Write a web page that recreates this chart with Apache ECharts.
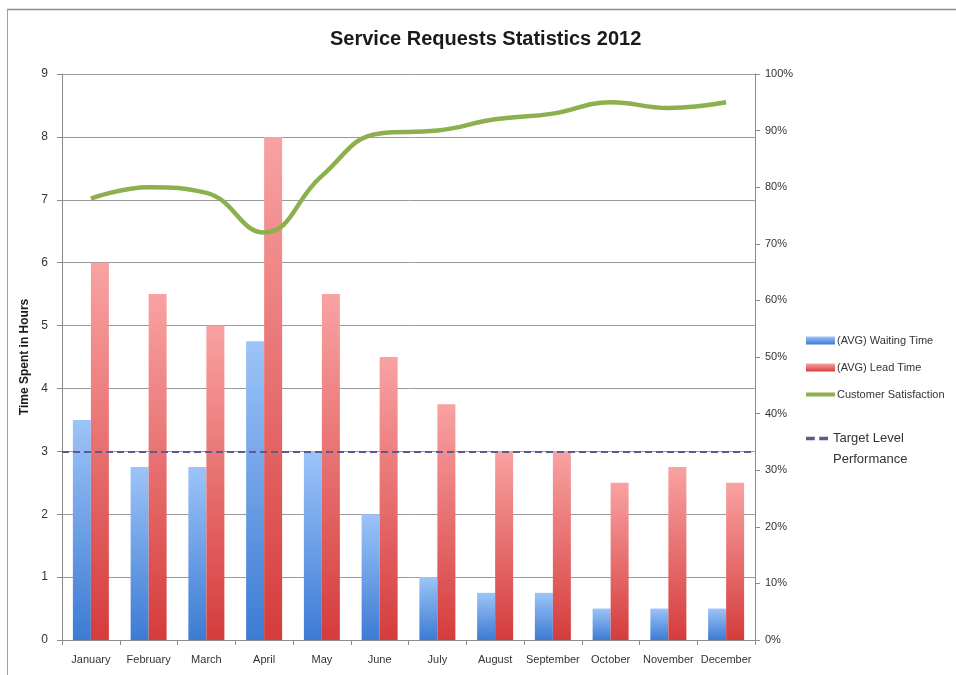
<!DOCTYPE html>
<html>
<head>
<meta charset="utf-8">
<script src="https://cdn.jsdelivr.net/npm/echarts@6/dist/echarts.min.js"></script>
<style>
  html, body { margin: 0; padding: 0; background: #ffffff; }
  #chart { width: 956px; height: 675px; }
</style>
</head>
<body>
<div id="chart"></div>
<script>
// Monthly service request figures for 2012
const months = ['January', 'February', 'March', 'April', 'May', 'June',
                'July', 'August', 'September', 'October', 'November', 'December'];
const waitingTime = [3.5, 2.75, 2.75, 4.75, 3.0, 2.0, 1.0, 0.75, 0.75, 0.5, 0.5, 0.5];
const leadTime = [6, 5.5, 5, 8, 5.5, 4.5, 3.75, 3, 3, 2.5, 2.75, 2.5];
const satisfaction = [78, 80, 79, 72, 82, 89.5, 90, 92, 93, 95, 94, 95];
const targetLevel = 3;
const hourTicks = [0, 9, 1];      // min, max, step
const percentTicks = [0, 100, 10]; // min, max, step

const FONT = '"Liberation Sans", Arial, sans-serif';

const chart = echarts.init(document.getElementById('chart'), null, { renderer: 'canvas' });

function vGrad(top, bottom) {
  return new echarts.graphic.LinearGradient(0, 0, 0, 1, [
    { offset: 0, color: top },
    { offset: 1, color: bottom }
  ]);
}

chart.setOption({
  animation: false,
  backgroundColor: '#ffffff',
  textStyle: { fontFamily: FONT },
  graphic: [
    { type: 'line', shape: { x1: 7, y1: 9.5, x2: 956, y2: 9.5 }, style: { stroke: '#8a8a8a', lineWidth: 1.5 } },
    { type: 'line', shape: { x1: 7.5, y1: 9, x2: 7.5, y2: 675 }, style: { stroke: '#a0a0a0', lineWidth: 1 } }
  ],
  title: {
    text: 'Service Requests Statistics 2012',
    left: 330,
    top: 29,
    padding: 0,
    textStyle: { fontFamily: FONT, fontSize: 20, fontWeight: 'bold', color: '#1a1a1a' }
  },
  legend: [
    {
      orient: 'vertical',
      left: 806,
      top: 335,
      padding: 0,
      itemGap: 16,
      itemWidth: 29,
      itemHeight: 8,
      textStyle: { fontFamily: FONT, fontSize: 11, color: '#333', padding: [0, 0, 0, -3] },
      data: [
        { name: '(AVG) Waiting Time', icon: 'rect' },
        { name: '(AVG) Lead Time', icon: 'rect' },
        { name: 'Customer Satisfaction', icon: 'path://M0,0h29v4h-29z' }
      ]
    },
    {
      orient: 'vertical',
      left: 806,
      top: 411,
      padding: 0,
      itemWidth: 22,
      itemHeight: 8,
      textStyle: {
        fontFamily: FONT, fontSize: 13, color: '#333',
        rich: { big: { fontFamily: FONT, fontSize: 13, color: '#333', lineHeight: 21 } }
      },
      formatter: function () {
        return '{big| }\n{big|Target Level}\n{big|Performance}';
      },
      data: [
        { name: 'Target Level Performance', icon: 'path://M0,0h8v3h-8zM12,0h8v3h-8z' }
      ]
    }
  ],
  grid: { left: 62, right: 201, top: 74, bottom: 35 },
  xAxis: {
    type: 'category',
    data: months,
    axisLine: { lineStyle: { color: '#8c8c8c' } },
    axisTick: { show: true, length: 5, lineStyle: { color: '#8c8c8c' } },
    axisLabel: { fontFamily: FONT, fontSize: 11, color: '#333', margin: 14, interval: 0 }
  },
  yAxis: [
    {
      type: 'value',
      min: hourTicks[0], max: hourTicks[1], interval: hourTicks[2],
      name: 'Time Spent in Hours',
      nameLocation: 'middle',
      nameGap: 23,
      nameTextStyle: { fontFamily: FONT, fontSize: 12, fontWeight: 'bold', color: '#1a1a1a' },
      axisLine: { show: true, lineStyle: { color: '#8c8c8c' } },
      axisTick: { show: true, length: 5, lineStyle: { color: '#8c8c8c' } },
      axisLabel: { fontFamily: FONT, fontSize: 12, color: '#333', margin: 14 },
      splitLine: { show: true, lineStyle: { color: '#9a9a9a', width: 1 } }
    },
    {
      type: 'value',
      min: percentTicks[0], max: percentTicks[1], interval: percentTicks[2],
      position: 'right',
      axisLine: { show: true, lineStyle: { color: '#8c8c8c' } },
      axisTick: { show: true, length: 5, lineStyle: { color: '#8c8c8c' } },
      axisLabel: { fontFamily: FONT, fontSize: 11, color: '#333', margin: 10, formatter: '{value}%' },
      splitLine: { show: false }
    }
  ],
  series: [
    {
      name: '(AVG) Waiting Time',
      type: 'bar',
      data: waitingTime,
      barWidth: 18,
      barGap: '0%',
      itemStyle: { color: vGrad('#9cc4f8', '#3d7bd3') }
    },
    {
      name: '(AVG) Lead Time',
      type: 'bar',
      data: leadTime,
      barWidth: 18,
      itemStyle: { color: vGrad('#f9a2a2', '#d53c3c') }
    },
    {
      name: 'Customer Satisfaction',
      type: 'line',
      yAxisIndex: 1,
      data: satisfaction,
      smooth: 0.45,
      symbol: 'none',
      lineStyle: { color: '#8db04e', width: 4.5 },
      itemStyle: { color: '#8db04e' },
      z: 4
    },
    {
      name: 'Target Level Performance',
      type: 'line',
      data: [],
      symbol: 'none',
      lineStyle: { color: '#5f5a8c', width: 2, type: [6, 4] },
      itemStyle: { color: '#5f5a8c' },
      markLine: {
        silent: true,
        symbol: ['none', 'none'],
        label: { show: false },
        lineStyle: { color: '#5f5a8c', width: 2, type: [7, 4] },
        data: [{ yAxis: targetLevel }]
      },
      z: 5
    }
  ]
});
</script>
</body>
</html>
